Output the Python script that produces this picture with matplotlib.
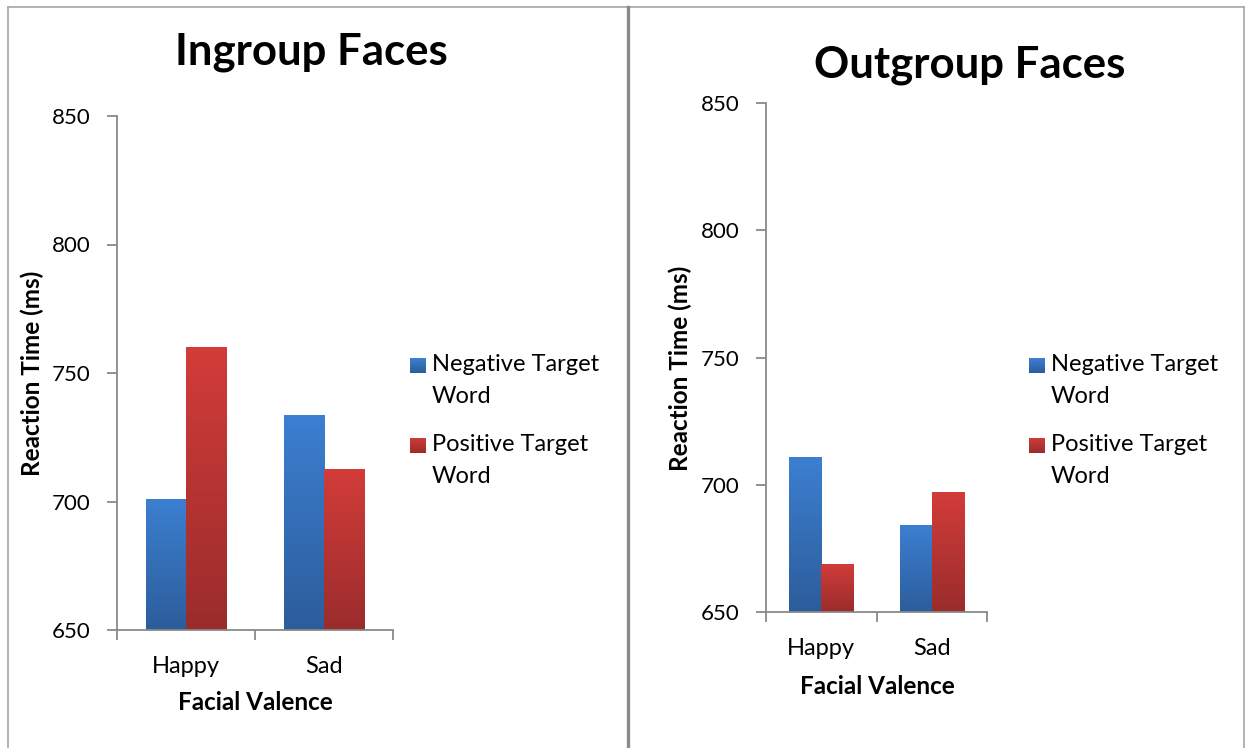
import numpy as np
import matplotlib
matplotlib.use("Agg")
import matplotlib.pyplot as plt
from matplotlib.colors import LinearSegmentedColormap
from matplotlib.lines import Line2D

plt.rcParams['font.family'] = ['Lato', 'DejaVu Sans']

# data
categories = ["Happy", "Sad"]
series_names = ["Negative Target\nWord", "Positive Target\nWord"]
ingroup_neg = [701, 733.5]
ingroup_pos = [760, 712.5]
outgroup_neg = [711, 684]
outgroup_pos = [669, 697]
y_ticks = [650, 700, 750, 800, 850]

W, H = 1246, 748
AXIS_GRAY = "#898989"
blue_cmap = LinearSegmentedColormap.from_list("b", ["#2c5d9b", "#3c7fd1"])
red_cmap = LinearSegmentedColormap.from_list("r", ["#9a2c2c", "#d23c39"])


def px(x, y):
    # pixel position (from top left) -> figure fraction
    return x / W, 1 - y / H


def gradient_bars(ax, xs, vals, width, cmap, base):
    bars = ax.bar(xs, [v - base for v in vals], width, bottom=base, color="none", zorder=2)
    grad = np.linspace(0, 1, 256).reshape(-1, 1)
    for b in bars:
        x0 = b.get_x()
        im = ax.imshow(grad, cmap=cmap, origin="lower", aspect="auto",
                       extent=[x0, x0 + b.get_width(), base, base + b.get_height()],
                       zorder=2, interpolation="bicubic")
        im.set_clip_path(b)
    return bars


def panel(rect, title, title_xy, neg, pos, ylabel_xy, xlabel_xy, legend_x):
    ax = fig.add_axes(rect)
    x = np.arange(len(categories))
    w = 0.29
    gradient_bars(ax, x - w / 2, neg, w, blue_cmap, 650)
    gradient_bars(ax, x + w / 2, pos, w, red_cmap, 650)
    ax.set_xlim(-0.5, 1.5)
    ax.set_ylim(650, 850)
    ax.set_yticks(y_ticks)
    ax.set_xticks(x)
    ax.set_xticklabels(categories, fontsize=17)
    ax.set_xticks([-0.5, 0.5, 1.5], minor=True)
    ax.tick_params(axis="x", which="major", length=0, pad=19)
    ax.tick_params(axis="x", which="minor", length=7, width=1.3, color=AXIS_GRAY, direction="out")
    ax.tick_params(axis="y", length=7, width=1.3, color=AXIS_GRAY, labelsize=16, pad=12)
    for s in ["top", "right"]:
        ax.spines[s].set_visible(False)
    for s in ["left", "bottom"]:
        ax.spines[s].set_color(AXIS_GRAY)
        ax.spines[s].set_linewidth(1.3)

    fig.text(*px(*title_xy), title, fontsize=31.5, fontweight="bold", ha="center", va="center")
    fig.text(*px(*ylabel_xy), "Reaction Time (ms)", fontsize=17.5, fontweight="bold",
             rotation=90, ha="center", va="center")
    fig.text(*px(*xlabel_xy), "Facial Valence", fontsize=17.5, fontweight="bold",
             ha="center", va="center")

    # legend: square next to the first line of each label
    for (y_sq, cmap, name) in [(365, blue_cmap, series_names[0]), (445, red_cmap, series_names[1])]:
        sx, sy = px(legend_x, y_sq + 8)
        sq = fig.add_axes([sx, sy, 16 / W, 15 / H])
        sq.imshow(np.linspace(0, 1, 64).reshape(-1, 1), cmap=cmap, origin="lower", aspect="auto")
        sq.axis("off")
        fig.text(*px(legend_x + 22, y_sq - 11), name, fontsize=17, ha="left", va="top",
                 linespacing=1.62)
    return ax


fig = plt.figure(figsize=(W / 100, H / 100), dpi=100)

panel([117 / W, (H - 630) / H, 276 / W, 514 / H], "Ingroup Faces", (311, 52),
      ingroup_neg, ingroup_pos, (32, 373), (255, 703), 410)
panel([766 / W, (H - 612) / H, 221 / W, 509 / H], "Outgroup Faces", (970, 65),
      outgroup_neg, outgroup_pos, (680, 368), (877, 687), 1029)

# page border and divider between the two panels
border = "#a6a6a6"
fig.add_artist(Line2D([8 / W, 1244 / W], [1 - 7 / H, 1 - 7 / H], color=border, lw=1.2))
fig.add_artist(Line2D([8 / W, 8 / W], [0, 1 - 7 / H], color=border, lw=1.2))
fig.add_artist(Line2D([1244 / W, 1244 / W], [0, 1 - 7 / H], color=border, lw=1.2))
fig.add_artist(Line2D([628 / W, 628 / W], [0, 1 - 7 / H], color="#8a8a8a", lw=2.4))

fig.savefig("out.png", dpi=100)
